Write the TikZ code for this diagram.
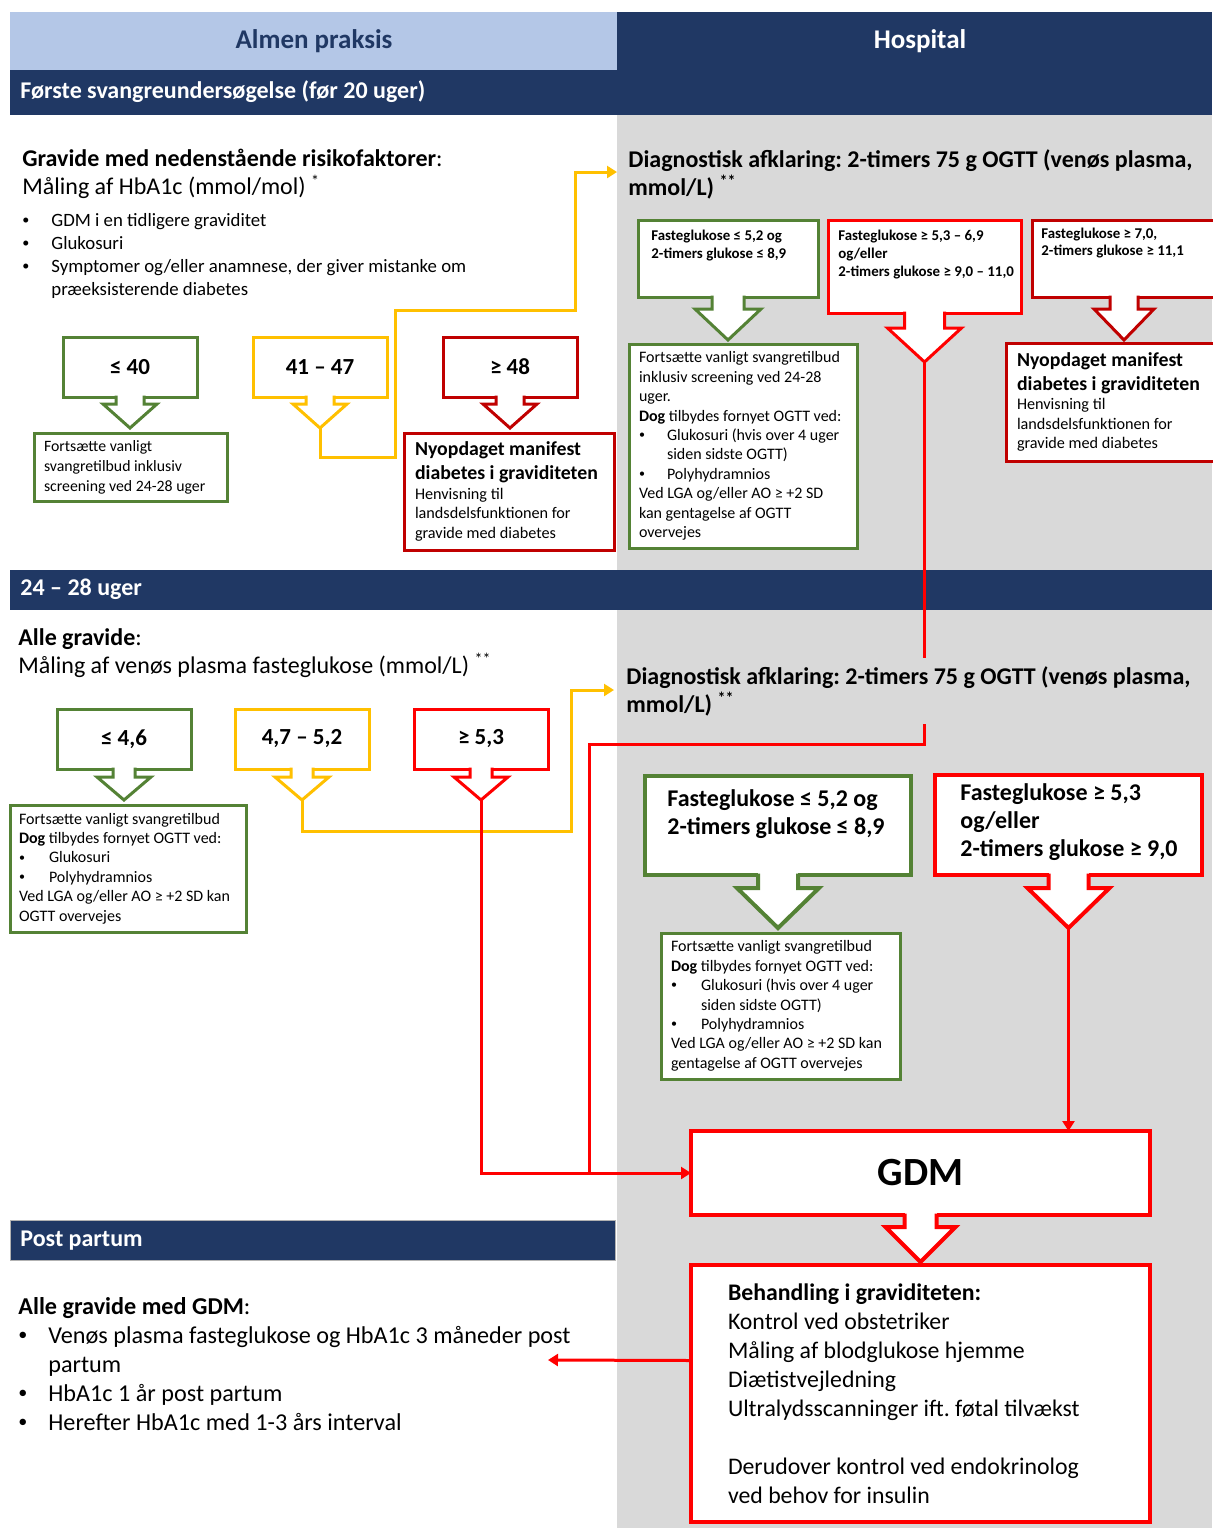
\documentclass[tikz,border=0pt]{standalone}
\usepackage{fontspec}
\setmainfont{Carlito}
\usetikzlibrary{positioning,calc,arrows.meta}
\frenchspacing

\definecolor{navy}{HTML}{203864}
\definecolor{paleblue}{HTML}{B4C7E7}
\definecolor{hospgrey}{HTML}{D9D9D9}
\definecolor{leafgreen}{HTML}{548235}
\definecolor{amber}{HTML}{FFC000}
\definecolor{darkred}{HTML}{C00000}
\definecolor{brightred}{HTML}{FF0000}

% box with a broad arrow hanging under it
\newcommand{\calloutdrop}[6]{%
  \fill[white] ($(#1.south)+(-#3,-2)$) rectangle ($(#1.south)+(#3,#4)$);
  \fill[white] ($(#1.south)+(-#5,#4)$) -- ($(#1.south)+(#5,#4)$) -- ($(#1.south)+(0,#4+#6)$) -- cycle;
  \draw[#2] ($(#1.south)+(#3,-1.5)$) -- ($(#1.south)+(#3,#4)$) -- ($(#1.south)+(#5,#4)$)
    -- ($(#1.south)+(0,#4+#6)$) -- ($(#1.south)+(-#5,#4)$) -- ($(#1.south)+(-#3,#4)$)
    -- ($(#1.south)+(-#3,-1.5)$);
  \coordinate (#1 tip) at ($(#1.south)+(0,#4+#6)$);
}
\newcommand{\itemdot}[1]{\makebox[#1][l]{\raisebox{0.12em}{\scalebox{0.75}{•}}}}
\newcommand{\tightspaces}{\spaceskip=0pt\xspaceskip=0pt\relax}

\begin{document}
\begin{tikzpicture}[
  x=0.5pt, y=-0.5pt,
  every node/.append style={execute at begin node=\tightspaces},
  box/.style={draw, fill=white, line width=1.5pt, outer sep=0pt, inner sep=0pt, anchor=north west},
  rangebox/.style={box, minimum width=67pt, minimum height=30pt, font=\bfseries\fontsize{11.5}{14}\selectfont},
  card/.style={box, inner xsep=5pt, align=left, font=\fontsize{8}{9.7}\selectfont},
  freetext/.style={anchor=north west, inner sep=0pt, align=left},
  bandtext/.style={anchor=west, inner sep=0pt, text=white, font=\bfseries\fontsize{12}{14}\selectfont},
  yline/.style={amber, line width=1.5pt},
  rline/.style={brightred, line width=1.5pt},
  arrowend/.style={-{Triangle[length=5pt,width=6pt]}}
]
\useasboundingbox (0,0) rectangle (1212,1528);

% columns and bands
\fill[white] (0,0) rectangle (1212,1528);
\fill[hospgrey] (617,115) rectangle (1212,1528);
\fill[paleblue] (10,12) rectangle (617,70);
\fill[navy] (617,12) rectangle (1212,70);
\fill[navy] (10,70) rectangle (1212,115);
\fill[navy] (10,570) rectangle (1212,610);
\filldraw[navy, draw=black!30] (10,1220) rectangle (615,1260);

\node[font=\bfseries\fontsize{13.5}{15}\selectfont, text=navy] (almen) at (314,41) {Almen praksis};
\node[font=\bfseries\fontsize{13.5}{15}\selectfont, text=white] (hospital) at (920,41) {Hospital};
\node[bandtext] (first) at (20,92) {Første svangreundersøgelse (før 20 uger)};
\node[bandtext] (week) at (20,589) {24 – 28 uger};
\node[bandtext] (postp) at (20,1241) {Post partum};

% first visit, general practice
\node[freetext, font=\fontsize{12}{14}\selectfont] (risk) at (22,149)
  {\textbf{Gravide med nedenstående risikofaktorer}:\\ Måling af HbA1c (mmol/mol) \textsuperscript{*}};
\node[freetext, font=\fontsize{9.4}{11.5}\selectfont] (risklist) at (22,213)
  {\itemdot{14.5pt}GDM i en tidligere graviditet\\
   \itemdot{14.5pt}Glukosuri\\
   \itemdot{14.5pt}Symptomer og/eller anamnese, der giver mistanke om\\
   \hspace*{14.5pt}præeksisterende diabetes};

\node[rangebox, draw=leafgreen] (c40) at (63,337) {≤ 40};
\node[rangebox, draw=amber] (c4147) at (253,337) {41 – 47};
\node[rangebox, draw=darkred] (c48) at (443,337) {≥ 48};
\calloutdrop{c40}{leafgreen, line width=1.5pt}{14}{7}{27}{24}
\calloutdrop{c4147}{amber, line width=1.5pt}{14}{7}{27}{24}
\calloutdrop{c48}{darkred, line width=1.5pt}{14}{7}{27}{24}

\node[card, draw=leafgreen, text width=86.5pt, minimum height=34pt, font=\fontsize{7.9}{10}\selectfont] (keep40) at (34,433)
  {Fortsætte vanligt\\ svangretilbud inklusiv\\ screening ved 24-28 uger};
\node[card, draw=darkred, inner xsep=5.5pt, text width=94pt, minimum height=58.5pt, font=\fontsize{8.1}{9.75}\selectfont] (manifest1) at (404,433)
  {{\bfseries\fontsize{9.9}{12}\selectfont Nyopdaget manifest\\ diabetes i graviditeten\par}
   Henvisning til\\ landsdelsfunktionen for\\ gravide med diabetes};

% first visit, hospital
\node[freetext, font=\bfseries\fontsize{12}{14}\selectfont] (diag1) at (628,149)
  {Diagnostisk afklaring: 2-timers 75 g OGTT (venøs plasma,\\ mmol/L) \textsuperscript{**}};
\coordinate (diag1 in) at (617,172);

\node[box, draw=leafgreen, minimum width=90pt, minimum height=38.5pt] (g1) at (638,220) {};
\node[freetext, below right=5pt and 6.5pt of g1.north west, font=\bfseries\fontsize{7.45}{9}\selectfont] (g1 txt)
  {Fasteglukose ≤ 5,2 og\\ 2-timers glukose ≤ 8,9};
\node[box, draw=brightred, minimum width=96.5pt, minimum height=46.5pt] (r1) at (828,220) {};
\node[freetext, below right=5pt and 5pt of r1.north west, font=\bfseries\fontsize{7.45}{9}\selectfont] (r1 txt)
  {Fasteglukose ≥ 5,3 – 6,9\\ og/eller\\ 2-timers glukose ≥ 9,0 – 11,0};
\node[box, draw=darkred, minimum width=92pt, minimum height=38.5pt] (dr1) at (1032,220) {};
\node[freetext, below right=4pt and 4.5pt of dr1.north west, font=\bfseries\fontsize{7.45}{8.5}\selectfont] (dr1 txt)
  {Fasteglukose ≥ 7,0,\\ 2-timers glukose ≥ 11,1};
\calloutdrop{g1}{leafgreen, line width=1.5pt}{16}{12}{33}{31}
\calloutdrop{r1}{brightred, line width=1.5pt}{20}{15}{37}{34}
\calloutdrop{dr1}{darkred, line width=1.5pt}{14}{12}{30}{31}

\node[card, draw=leafgreen, text width=104pt, minimum height=102pt] (keep1) at (629,344)
  {Fortsætte vanligt svangretilbud\\ inklusiv screening ved 24-28\\ uger.\\
   \textbf{Dog} tilbydes fornyet OGTT ved:\\
   \itemdot{14pt}Glukosuri (hvis over 4 uger\\ \hspace*{14pt}siden sidste OGTT)\\
   \itemdot{14pt}Polyhydramnios\\
   Ved LGA og/eller AO ≥ +2 SD\\ kan gentagelse af OGTT\\ overvejes};
\node[card, draw=darkred, inner xsep=5.5pt, text width=94pt, minimum height=59pt, font=\fontsize{8.1}{9.75}\selectfont] (manifest2) at (1006,343)
  {{\bfseries\fontsize{9.9}{12}\selectfont Nyopdaget manifest\\ diabetes i graviditeten\par}
   Henvisning til\\ landsdelsfunktionen for\\ gravide med diabetes};

% week 24-28, general practice
\node[freetext, font=\fontsize{12}{14}\selectfont] (alle) at (18,628)
  {\textbf{Alle gravide}:\\ Måling af venøs plasma fasteglukose (mmol/L) \textsuperscript{**}};
\node[rangebox, draw=leafgreen] (c46) at (57,709) {≤ 4,6};
\node[rangebox, draw=amber] (c4752) at (235,709) {4,7 – 5,2};
\node[rangebox, draw=brightred] (c53) at (414,709) {≥ 5,3};
\calloutdrop{c46}{leafgreen, line width=1.5pt}{11}{8}{27}{23}
\calloutdrop{c4752}{amber, line width=1.5pt}{11}{8}{27}{23}
\calloutdrop{c53}{brightred, line width=1.5pt}{11}{8}{27}{23}

\node[card, draw=leafgreen, inner xsep=4.5pt, text width=109pt, minimum height=63.5pt] (keep2) at (10,805)
  {Fortsætte vanligt svangretilbud\\
   \textbf{Dog} tilbydes fornyet OGTT ved:\\
   \itemdot{15pt}Glukosuri\\
   \itemdot{15pt}Polyhydramnios\\
   Ved LGA og/eller AO ≥ +2 SD~kan\\ OGTT overvejes};

% week 24-28, hospital
\node[freetext, inner ysep=4pt, font=\bfseries\fontsize{12}{14}\selectfont] (diag2) at (626,658)
  {Diagnostisk afklaring: 2-timers 75 g OGTT (venøs plasma,\\ mmol/L) \textsuperscript{**}};
\coordinate (diag2 in) at (614,690);

\node[box, draw=leafgreen, line width=2pt, minimum width=133pt, minimum height=49.5pt] (g2) at (645,776) {};
\node[freetext, below right=6.5pt and 11pt of g2.north west, font=\bfseries\fontsize{12}{14}\selectfont] (g2 txt)
  {Fasteglukose ≤ 5,2 og\\ 2-timers glukose ≤ 8,9};
\node[box, draw=brightred, line width=2pt, minimum width=133.5pt, minimum height=50pt] (r2) at (935,775) {};
\node[freetext, below right=4pt and 12.5pt of r2.north west, font=\bfseries\fontsize{12}{14}\selectfont] (r2 txt)
  {Fasteglukose ≥ 5,3\\ og/eller\\ 2-timers glukose ≥ 9,0};
\calloutdrop{g2}{leafgreen, line width=2pt}{20}{13}{41}{40}
\calloutdrop{r2}{brightred, line width=2pt}{20}{13}{41}{40}

\node[card, draw=leafgreen, text width=109.5pt, minimum height=73pt] (keep3) at (661,933)
  {Fortsætte vanligt svangretilbud\\
   \textbf{Dog} tilbydes fornyet OGTT ved:\\
   \itemdot{15pt}Glukosuri (hvis over 4 uger\\ \hspace*{15pt}siden sidste OGTT)\\
   \itemdot{15pt}Polyhydramnios\\
   Ved LGA og/eller AO ≥ +2 SD~kan\\ gentagelse af OGTT overvejes};

\node[box, draw=brightred, line width=2pt, minimum width=229.5pt, minimum height=42pt, font=\bfseries\fontsize{20}{24}\selectfont] (gdm) at (691,1131) {GDM};
\calloutdrop{gdm}{brightred, line width=2pt}{16}{12}{35}{35}
\node[card, draw=brightred, line width=2pt, inner xsep=18.5pt, text width=192.5pt, minimum height=128.5pt, font=\fontsize{11.9}{14.5}\selectfont] (treat) at (691,1265)
  {\textbf{Behandling i graviditeten:}\\ Kontrol ved obstetriker\\ Måling af blodglukose hjemme\\
   Diætistvejledning\\ Ultralydsscanninger ift. føtal tilvækst\\[14.5pt]
   Derudover kontrol ved endokrinolog\\ ved behov for insulin};

% post partum
\node[freetext, font=\fontsize{12.1}{14.5}\selectfont] (after) at (18,1297)
  {\textbf{Alle gravide med GDM}:\\
   \itemdot{15pt}Venøs plasma fasteglukose og HbA1c 3 måneder post\\
   \hspace*{15pt}partum\\
   \itemdot{15pt}HbA1c 1 år post partum\\
   \itemdot{15pt}Herefter HbA1c med 1-3 års interval};
\coordinate (after in) at (548,1360);

% connectors
\coordinate (join) at ($(gdm.west)+(-102,0)$);
\draw[yline, arrowend] (c4147 tip) -- ++(0,29) -- ++(75,0) -- ++(0,-147) -- ++(180,0) |- (diag1 in);
\draw[yline, arrowend] (c4752 tip) -- ++(0,31) -- ++(269,0) |- (diag2 in);
\draw[rline] (r1 tip) -- (r1 tip |- diag2.north);
\draw[rline] (r1 tip |- diag2.south) -- ++(0,20) -| (join);
\draw[rline, arrowend] (c53 tip) |- (gdm.west);
\draw[rline, arrowend] (r2 tip) -- (r2 tip |- gdm.north);
\draw[rline, arrowend] ($(treat.west)+(0,-33)$) -- (after in);
\end{tikzpicture}
\end{document}
